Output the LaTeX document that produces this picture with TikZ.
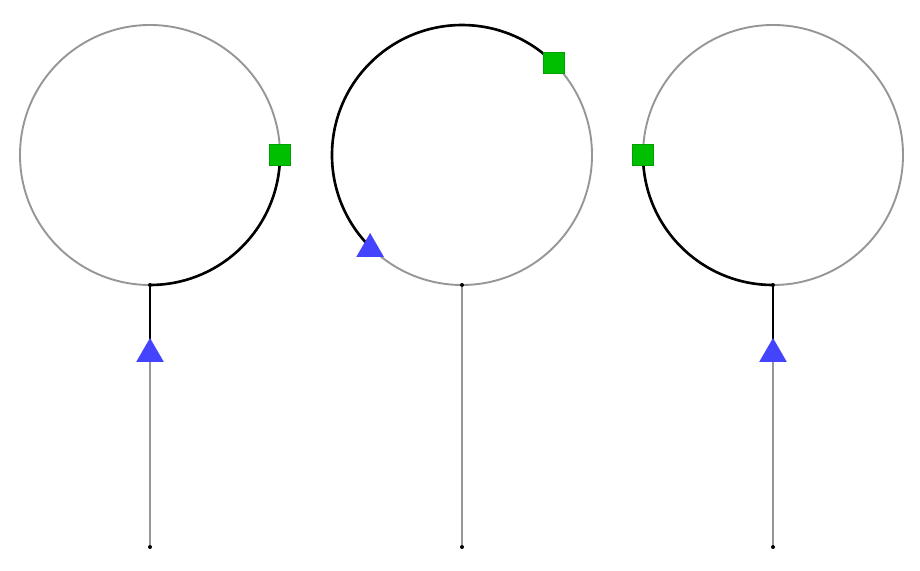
\documentclass[tikz,border=0pt]{standalone}
\usetikzlibrary{shapes.geometric,backgrounds}
\definecolor{railgray}{RGB}{150,150,150}
\definecolor{goalgreen}{RGB}{0,190,0}
\definecolor{goaledge}{RGB}{0,160,0}
\definecolor{startblue}{RGB}{68,68,255}
\begin{document}
\begin{tikzpicture}[x=1pt,y=1pt,
    rail/.style={draw=railgray, line width=1.9pt},
    walked/.style={draw=black, line width=2.6pt},
    dot/.style={circle, fill=black, inner sep=0pt, minimum size=4pt},
    goal/.style={rectangle, fill=goalgreen, draw=goaledge, line width=1pt, inner sep=0pt, minimum size=21pt},
    start/.style={regular polygon, regular polygon sides=3, fill=startblue, inner sep=0pt, minimum size=32pt}]
    \useasboundingbox (0,0) rectangle (920,570);

    % left loop
    \coordinate (c1) at (150,415);
    \node[dot] (top1) at (150,285) {};
    \node[dot] (bot1) at (150,23) {};
    \node[goal] (sq1) at (280,415) {};
    \node[start] (tri1) at (150,216) {};

    % middle loop
    \coordinate (c2) at (462,415);
    \node[dot] (top2) at (462,285) {};
    \node[dot] (bot2) at (462,23) {};
    \node[goal] (sq2) at (553.9,506.9) {};
    \node[start] (tri2) at (370.1,321) {};

    % right loop
    \coordinate (c3) at (773,415);
    \node[dot] (top3) at (773,285) {};
    \node[dot] (bot3) at (773,23) {};
    \node[goal] (sq3) at (643,415) {};
    \node[start] (tri3) at (773,216) {};

    \begin{pgfonlayer}{background}
        \draw[rail] (c1) circle (130);
        \draw[rail] (top1) -- (bot1);
        \draw[walked] (top1.center) arc (270:360:130);
        \draw[walked] (top1.center) -- (tri1.center);

        \draw[rail] (c2) circle (130);
        \draw[rail] (top2) -- (bot2);
        \draw[walked] (sq2.center) arc (45:225:130);

        \draw[rail] (c3) circle (130);
        \draw[rail] (top3) -- (bot3);
        \draw[walked] (sq3.center) arc (180:270:130);
        \draw[walked] (top3.center) -- (tri3.center);
    \end{pgfonlayer}
\end{tikzpicture}
\end{document}
